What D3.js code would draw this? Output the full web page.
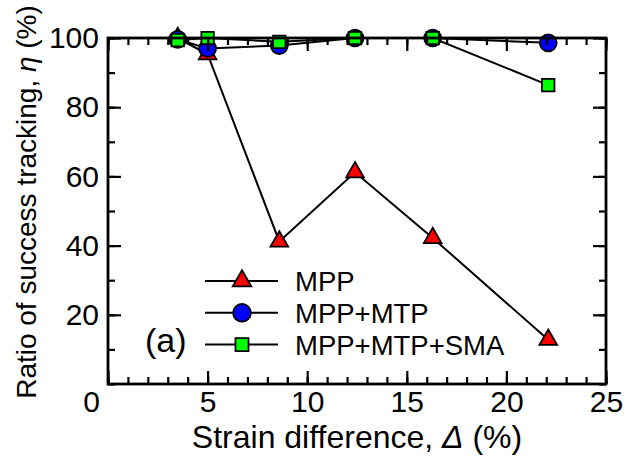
<!doctype html>
<html>
<head>
<script src="https://d3js.org/d3.v7.min.js"></script>
<style>
  body { margin: 0; background: #fff; }
  svg { font-family: "Liberation Sans", Arial, sans-serif; }
</style>
</head>
<body>
<div class="graph"></div>
<script>
  // strain difference (%) and ratio of success tracking (%)
  var strain = [3.5, 5.0, 8.6, 12.4, 16.3, 22.1];
  var mpp = [100, 95.3, 41.2, 61.2, 42.2, 12.8];
  var mppMtp = [99.6, 97.0, 97.8, 100, 100, 98.6];
  var mppMtpSma = [99.4, 100, 98.9, 100, 100, 86.4];
  var seriesNames = ['MPP', 'MPP+MTP', 'MPP+MTP+SMA'];
  var xTicks = [0, 5, 10, 15, 20, 25];
  var yTicks = [20, 40, 60, 80, 100];

  var width = 626, height = 457;
  var svg = d3.select('.graph').append('svg')
    .attr('width', width).attr('height', height);

  var x = d3.scaleLinear().domain([0, 25]).range([108, 606]);
  var y = d3.scaleLinear().domain([0, 100]).range([384, 38]);

  var series = [
    { name: seriesNames[0], values: mpp, shape: d3.symbolTriangle, size: 135, fill: '#ff0000' },
    { name: seriesNames[1], values: mppMtp, shape: d3.symbolCircle, size: 225, fill: '#0000ff' },
    { name: seriesNames[2], values: mppMtpSma, shape: d3.symbolSquare, size: 155, fill: '#00ff00' }
  ];

  var line = d3.line()
    .x(function(d) { return x(d[0]); })
    .y(function(d) { return y(d[1]); });

  var plot = svg.append('g').attr('class', 'plot');
  series.forEach(function(s) {
    var pts = strain.map(function(v, i) { return [v, s.values[i]]; });
    var g = plot.append('g');
    g.append('path')
      .attr('d', line(pts))
      .attr('fill', 'none')
      .attr('stroke', '#000')
      .attr('stroke-width', 2);
    g.selectAll('path.mark')
      .data(pts)
      .enter()
      .append('path')
      .attr('class', 'mark')
      .attr('d', d3.symbol().type(s.shape).size(s.size))
      .attr('transform', function(d) { return 'translate(' + x(d[0]) + ',' + y(d[1]) + ')'; })
      .attr('fill', s.fill)
      .attr('stroke', '#000')
      .attr('stroke-width', 1.8);
  });

  // axes, ticks inward on all four sides
  function styleAxis(g) {
    g.select('.domain').remove();
    g.selectAll('.tick line').attr('stroke', '#000').attr('stroke-width', 2.2);
    g.selectAll('.tick text').attr('fill', '#000').style('font-size', '30px');
  }
  var minorX = d3.range(0, 26, 1);
  var minorY = d3.range(0, 101, 10);

  svg.append('g').attr('transform', 'translate(0,384)')
    .call(d3.axisBottom(x).tickValues(minorX).tickSize(-7).tickFormat(''))
    .call(styleAxis);
  svg.append('g').attr('transform', 'translate(0,384)')
    .call(d3.axisBottom(x).tickValues(xTicks).tickSize(-13).tickPadding(7).tickFormat(d3.format('d')))
    .call(styleAxis)
    .selectAll('.tick text')
    .attr('dx', function(d) { return d === 0 ? -17 : 0; });
  svg.append('g').attr('transform', 'translate(0,38)')
    .call(d3.axisTop(x).tickValues(minorX).tickSize(-7).tickFormat(''))
    .call(styleAxis);
  svg.append('g').attr('transform', 'translate(0,38)')
    .call(d3.axisTop(x).tickValues(xTicks).tickSize(-13).tickFormat(''))
    .call(styleAxis);

  svg.append('g').attr('transform', 'translate(108,0)')
    .call(d3.axisLeft(y).tickValues(minorY).tickSize(-7).tickFormat(''))
    .call(styleAxis);
  svg.append('g').attr('transform', 'translate(108,0)')
    .call(d3.axisLeft(y).tickValues(yTicks).tickSize(-13).tickPadding(9).tickFormat(d3.format('d')))
    .call(styleAxis);
  svg.append('g').attr('transform', 'translate(606,0)')
    .call(d3.axisRight(y).tickValues(minorY).tickSize(-7).tickFormat(''))
    .call(styleAxis);
  svg.append('g').attr('transform', 'translate(606,0)')
    .call(d3.axisRight(y).tickValues(yTicks).tickSize(-13).tickFormat(''))
    .call(styleAxis);

  svg.append('rect')
    .attr('x', 108).attr('y', 38)
    .attr('width', 606 - 108).attr('height', 384 - 38)
    .attr('fill', 'none').attr('stroke', '#000').attr('stroke-width', 2.8);

  // axis titles
  var xt = svg.append('text')
    .attr('x', 357).attr('y', 448)
    .attr('text-anchor', 'middle')
    .style('font-size', '32px');
  xt.append('tspan').text('Strain difference, ');
  xt.append('tspan').style('font-style', 'italic').text('\u0394');
  xt.append('tspan').text(' (%)');

  var yt = svg.append('text')
    .attr('transform', 'translate(36,202) rotate(-90)')
    .attr('text-anchor', 'middle')
    .style('font-size', '28px');
  yt.append('tspan').text('Ratio of success tracking, ');
  yt.append('tspan').style('font-style', 'italic').text('\u03b7');
  yt.append('tspan').text(' (%)');

  // legend
  var legend = svg.append('g').attr('class', 'legend');
  series.forEach(function(s, i) {
    var cy = 281 + i * 31.8;
    legend.append('line')
      .attr('x1', 205).attr('x2', 278)
      .attr('y1', cy).attr('y2', cy)
      .attr('stroke', '#000').attr('stroke-width', 2);
    legend.append('path')
      .attr('d', d3.symbol().type(s.shape).size(s.size * 1.1))
      .attr('transform', 'translate(242,' + cy + ')')
      .attr('fill', s.fill).attr('stroke', '#000').attr('stroke-width', 1.8);
    legend.append('text')
      .attr('x', 295).attr('y', cy + 10)
      .style('font-size', '27.5px')
      .text(s.name);
  });

  svg.append('text')
    .attr('x', 145).attr('y', 352)
    .style('font-size', '34px')
    .text('(a)');
</script>
</body>
</html>
